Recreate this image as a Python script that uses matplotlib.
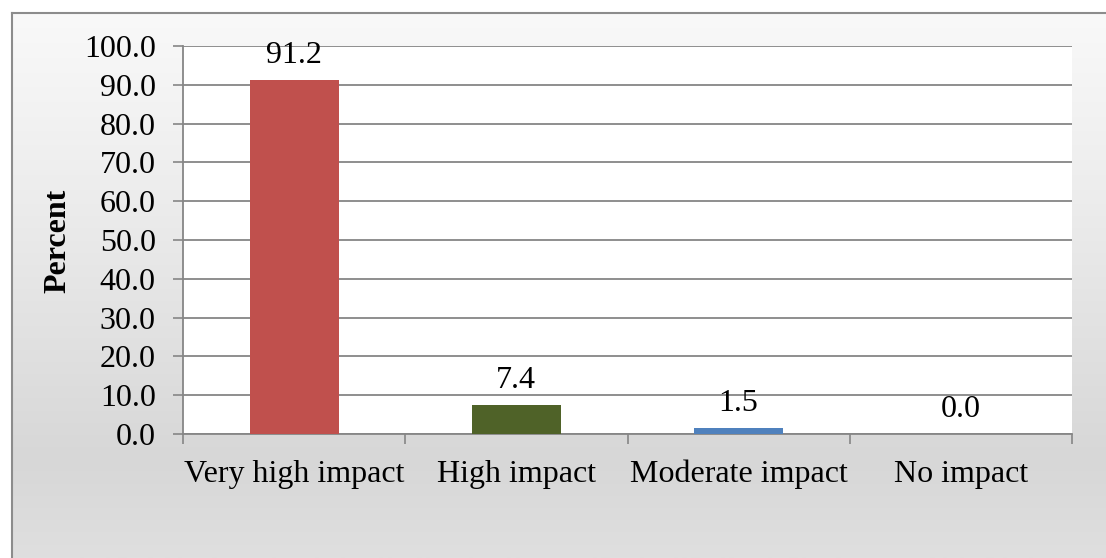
import numpy as np
import matplotlib
matplotlib.use("Agg")
import matplotlib.pyplot as plt
from matplotlib.colors import LinearSegmentedColormap

categories = ["Very high impact", "High impact", "Moderate impact", "No impact"]
percent = [91.2, 7.4, 1.5, 0.0]
bar_colors = ["#C0504D", "#4F6228", "#4F81BD", "#9BBB59"]
y_ticks = [0, 10, 20, 30, 40, 50, 60, 70, 80, 90, 100]

W, H, DPI = 1106, 558, 100
plt.rcParams["font.family"] = ["Liberation Serif", "DejaVu Serif"]
FS = 23

fig = plt.figure(figsize=(W / DPI, H / DPI), dpi=DPI)

# Chart-area background: vertical grey gradient inside a thin frame
bg = fig.add_axes([12 / W, 0, 1 - 12 / W, 1 - 13 / H], zorder=-10)
grad = LinearSegmentedColormap.from_list(
    "bg", [(0.0, "#f9f9f9"), (0.35, "#ececec"), (0.82, "#d7d7d7"), (1.0, "#dfdfdf")])
bg.imshow(np.linspace(0, 1, 256).reshape(-1, 1), aspect="auto", cmap=grad,
          extent=[0, 1, 0, 1], origin="upper")
bg.set_xlim(0, 1)
bg.set_ylim(0, 1)
bg.axis("off")
fig.add_artist(plt.Line2D([12 / W, 1], [1 - 13 / H, 1 - 13 / H],
                          transform=fig.transFigure, color="#8c8c8c", lw=1.5))
fig.add_artist(plt.Line2D([12 / W, 12 / W], [0, 1 - 13 / H],
                          transform=fig.transFigure, color="#8c8c8c", lw=1.5))

left, right, top, bottom = 183, 1072, 46, 434
ax = fig.add_axes([left / W, 1 - bottom / H, (right - left) / W, (bottom - top) / H])
ax.set_facecolor("white")

x = np.arange(len(categories))
ax.bar(x, percent, width=0.4, color=bar_colors, zorder=3)

for xi, v in zip(x, percent):
    ax.annotate(f"{v:.1f}", (xi, v), xytext=(0, 12.5), textcoords="offset points",
                ha="center", va="baseline", fontsize=FS, color="black", zorder=4)

ax.set_xlim(-0.5, len(categories) - 0.5)
ax.set_ylim(0, 100)
ax.set_yticks(y_ticks)
ax.set_yticklabels([f"{t:.1f}" for t in y_ticks])
ax.yaxis.grid(True, color="#868686", lw=1.3, zorder=0)

ax.set_xticks(np.arange(-0.5, len(categories), 1.0))
ax.set_xticklabels([])
ax.set_xticks(x, minor=True)
ax.set_xticklabels(categories, minor=True)
ax.tick_params(axis="x", which="major", length=7.2, width=1.2, color="#868686", direction="out")
ax.tick_params(axis="x", which="minor", length=0, pad=18.5, labelsize=FS)
ax.tick_params(axis="y", length=7.2, width=1.2, color="#868686", direction="out",
               pad=12.5, labelsize=FS)

for s in ["top", "right"]:
    ax.spines[s].set_visible(False)
for s in ["left", "bottom"]:
    ax.spines[s].set_color("#868686")
    ax.spines[s].set_linewidth(1.3)

fig.text(58 / W, 1 - 241 / H, "Percent", rotation=90, ha="center", va="center",
         fontsize=FS, fontweight="bold")

fig.savefig("out.png", dpi=DPI)
